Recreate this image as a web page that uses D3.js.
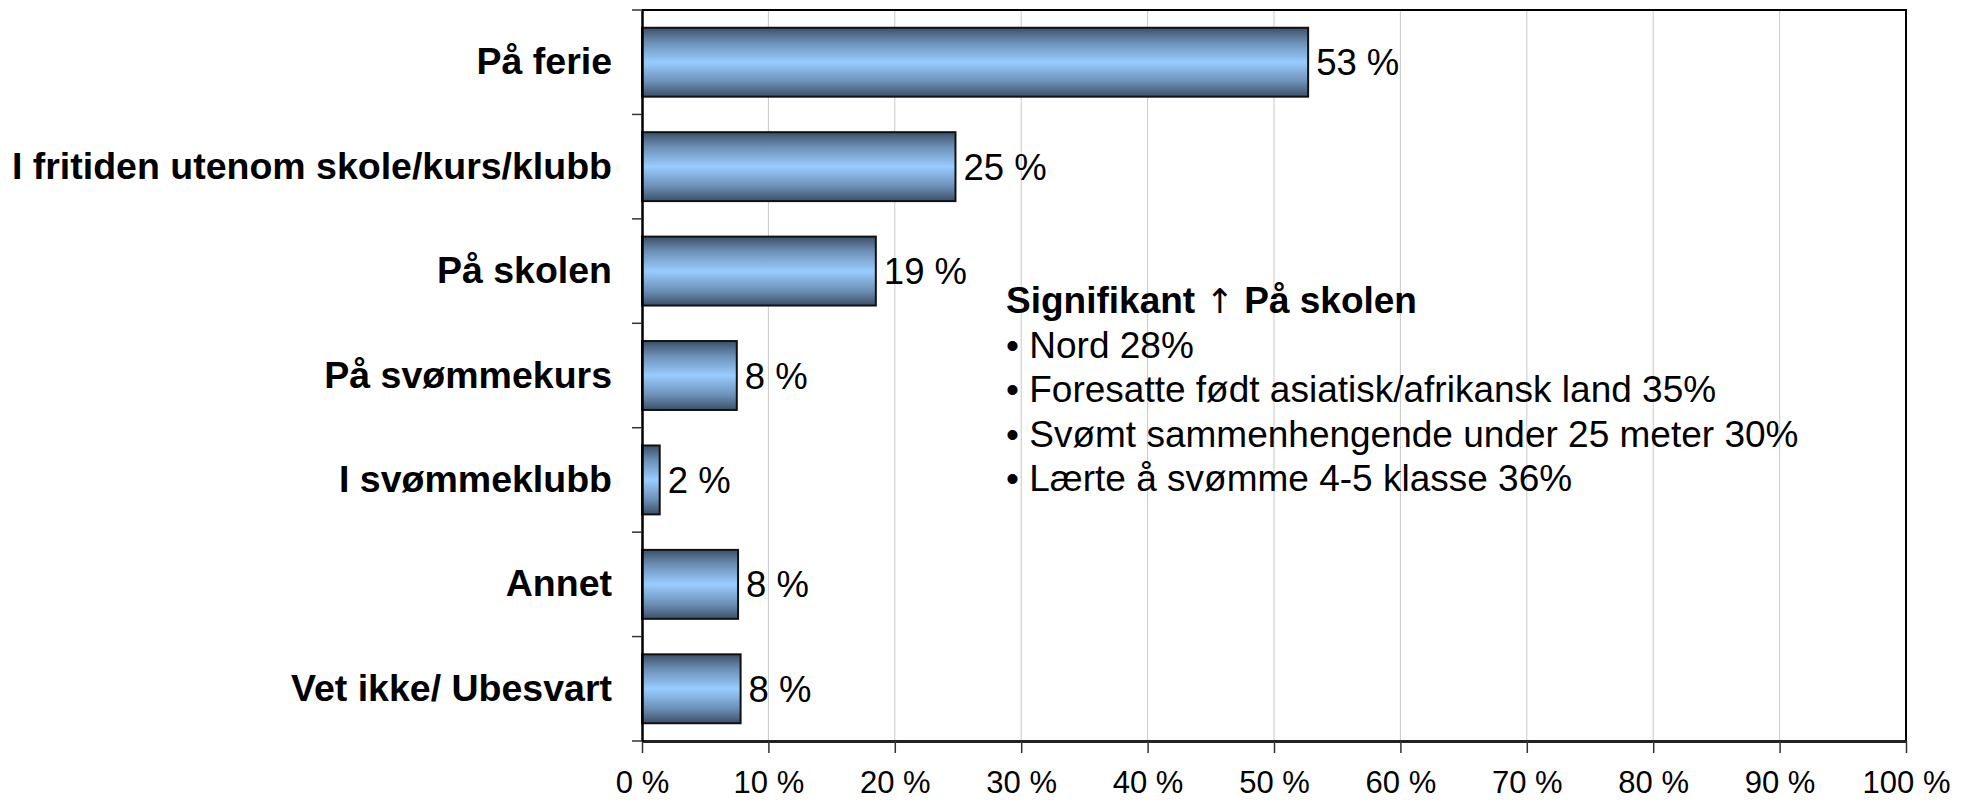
<!DOCTYPE html>
<meta charset="utf-8">
<script src="https://d3js.org/d3.v7.min.js"></script>
<style>
  body { margin: 0; background: #fff; }
  text { font-family: "Liberation Sans", Arial, sans-serif; }
</style>
<div id="my_dataviz"></div>
<script>

// data
var categories = ["På ferie", "I fritiden utenom skole/kurs/klubb", "På skolen",
                  "På svømmekurs", "I svømmeklubb", "Annet", "Vet ikke/ Ubesvart"];
var values = [52.7, 24.8, 18.5, 7.5, 1.4, 7.6, 7.8];
var valueLabels = ["53 %", "25 %", "19 %", "8 %", "2 %", "8 %", "8 %"];
var xTicks = [0, 10, 20, 30, 40, 50, 60, 70, 80, 90, 100];
var noteTitleA = "Signifikant ";
var noteArrow = "\u2191";
var noteTitleB = " På skolen";
var noteLines = ["• Nord 28%", "• Foresatte født asiatisk/afrikansk land 35%",
                 "• Svømt sammenhengende under 25 meter 30%", "• Lærte å svømme 4-5 klasse 36%"];

var W = 1972, H = 803;
var margin = {top: 10, right: 66, bottom: 62, left: 642},
    width = W - margin.left - margin.right,
    height = H - margin.top - margin.bottom;

var root = d3.select("#my_dataviz")
  .append("svg")
    .attr("width", W)
    .attr("height", H);

// bar gradient: dark edges, light centre
var grad = root.append("defs").append("linearGradient")
    .attr("id", "barGrad")
    .attr("x1", 0).attr("y1", 0).attr("x2", 0).attr("y2", 1);
grad.append("stop").attr("offset", "0%").attr("stop-color", "#3c5068");
grad.append("stop").attr("offset", "22%").attr("stop-color", "#6d91b8");
grad.append("stop").attr("offset", "50%").attr("stop-color", "#99ccff");
grad.append("stop").attr("offset", "78%").attr("stop-color", "#6d91b8");
grad.append("stop").attr("offset", "100%").attr("stop-color", "#3c5068");

var svg = root.append("g")
    .attr("transform", "translate(" + margin.left + "," + margin.top + ")");

var x = d3.scaleLinear().domain([0, 100]).range([0, width]);
var y = d3.scaleBand()
  .domain(categories)
  .range([0, height])
  .paddingInner(0.34)
  .paddingOuter(0.17);

// gridlines
svg.append("g")
  .selectAll("line")
  .data(xTicks.slice(1, -1))
  .enter().append("line")
    .attr("x1", function(d) { return x(d); })
    .attr("x2", function(d) { return x(d); })
    .attr("y1", 0).attr("y2", height)
    .attr("stroke", "#c8c8c8")
    .attr("stroke-width", 1);

// frame top + right
svg.append("path")
  .attr("d", "M0,0H" + width + "V" + height)
  .attr("fill", "none")
  .attr("stroke", "#000")
  .attr("stroke-width", 2);

// bars
svg.selectAll("rect.bar")
  .data(values)
  .enter().append("rect")
    .attr("class", "bar")
    .attr("x", x(0))
    .attr("y", function(d, i) { return y(categories[i]); })
    .attr("width", function(d) { return x(d) - x(0); })
    .attr("height", y.bandwidth())
    .attr("fill", "url(#barGrad)")
    .attr("stroke", "#111")
    .attr("stroke-width", 2);

// value labels
svg.selectAll("text.val")
  .data(values)
  .enter().append("text")
    .attr("class", "val")
    .attr("x", function(d) { return x(d) + 8; })
    .attr("y", function(d, i) { return y(categories[i]) + y.bandwidth() / 2; })
    .attr("dy", "0.36em")
    .style("font-size", "36.5px")
    .text(function(d, i) { return valueLabels[i]; });

// x axis
var xAxis = svg.append("g")
  .attr("transform", "translate(0," + height + ")")
  .call(d3.axisBottom(x).tickValues(xTicks).tickSize(12).tickSizeOuter(0)
        .tickFormat(function(d) { return d + " %"; }));
xAxis.select(".domain").attr("stroke", "#222").attr("stroke-width", 3);
xAxis.selectAll(".tick line").attr("stroke", "#333").attr("stroke-width", 1.5);
xAxis.selectAll(".tick text")
  .attr("y", 52)
  .attr("dy", "0")
  .style("font-size", "31px")
  .attr("fill", "#000");

// y axis: ticks at category boundaries
var yAxis = svg.append("g")
  .call(d3.axisLeft(y).tickSize(0).tickPadding(30).tickSizeOuter(0));
yAxis.select(".domain").attr("stroke", "#000").attr("stroke-width", 2.5);
yAxis.selectAll(".tick text")
  .style("font-size", "37.5px")
  .style("font-weight", "bold")
  .attr("fill", "#000");
svg.append("g")
  .selectAll("line")
  .data(d3.range(categories.length + 1))
  .enter().append("line")
    .attr("x1", -10).attr("x2", 0)
    .attr("y1", function(i) { return i * y.step(); })
    .attr("y2", function(i) { return i * y.step(); })
    .attr("stroke", "#333")
    .attr("stroke-width", 1.5);

// annotation
var noteX = x(28.8);
var note = svg.append("text")
  .attr("x", noteX)
  .attr("y", 303)
  .style("font-size", "37px");
var title = note.append("tspan").attr("x", noteX).style("font-weight", "bold");
title.append("tspan").text(noteTitleA);
title.append("tspan")
  .style("font-family", "DejaVu Sans")
  .style("font-weight", "normal")
  .style("font-size", "34px")
  .text(noteArrow);
title.append("tspan").text(noteTitleB);
noteLines.forEach(function(t) {
  note.append("tspan")
    .attr("x", noteX)
    .attr("dy", 44.6)
    .text(t);
});

</script>
